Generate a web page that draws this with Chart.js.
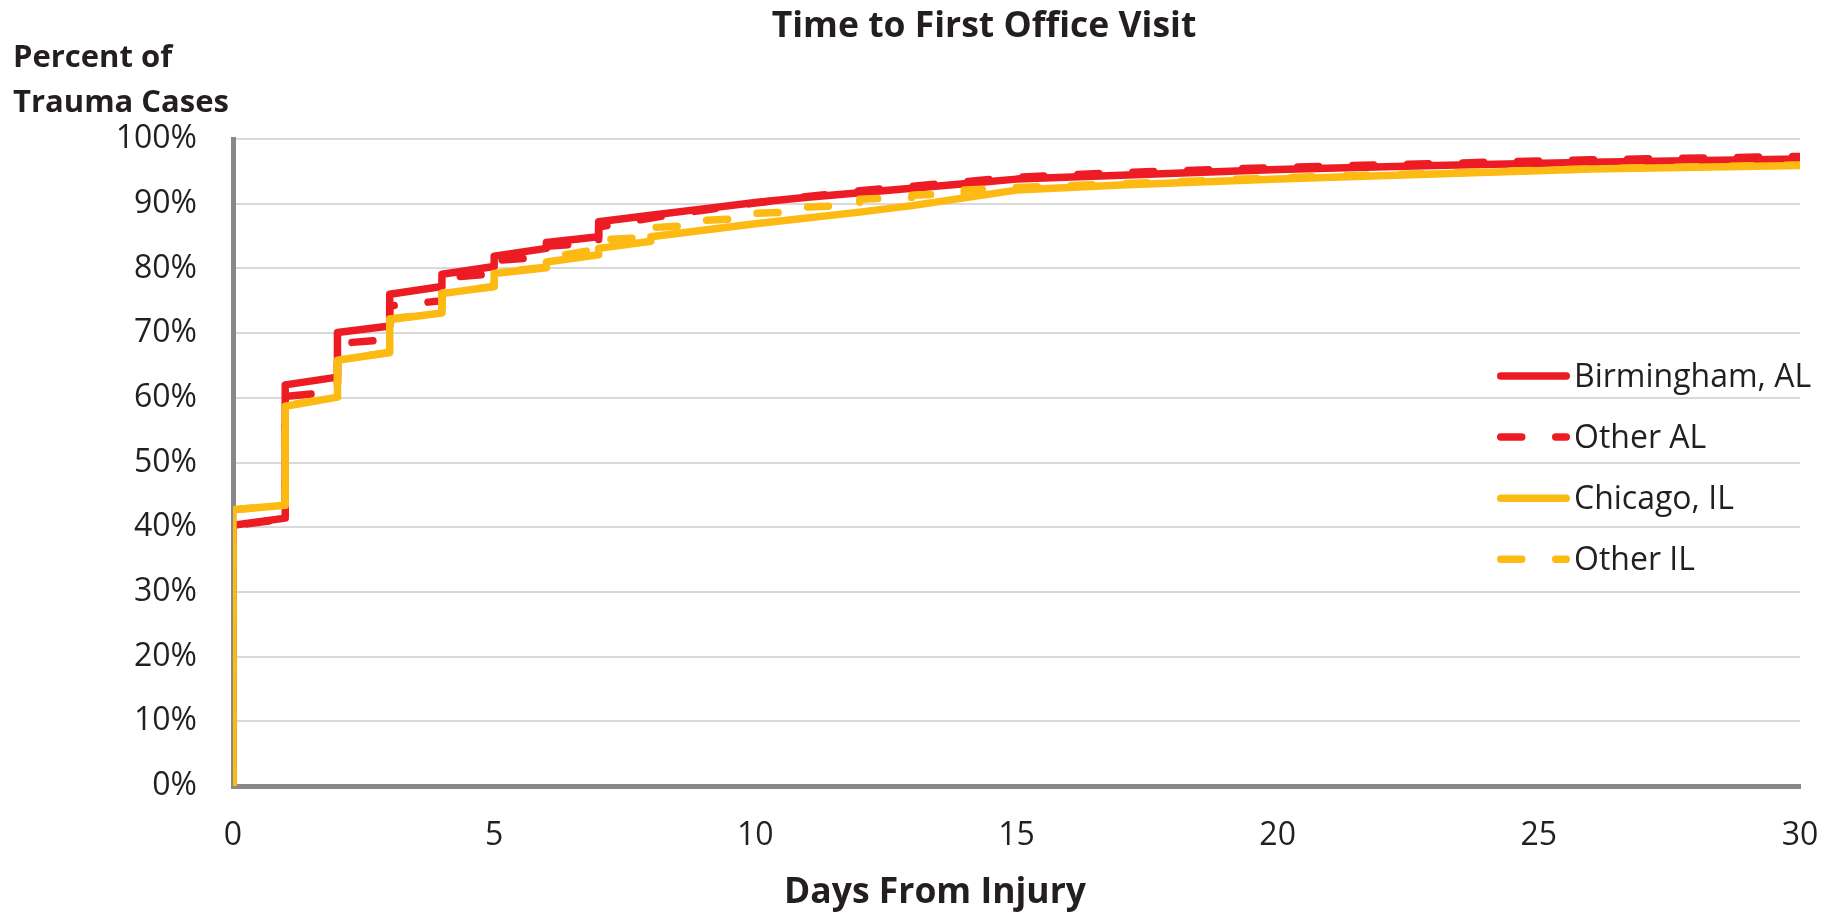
<!DOCTYPE html>
<html>
<head>
<meta charset="utf-8">
<title>Time to First Office Visit</title>
<script src="https://cdn.jsdelivr.net/npm/chart.js@4.4.1/dist/chart.umd.min.js"></script>
<style>
  html, body { margin: 0; padding: 0; background: #ffffff; }
  #wrap { width: 1835px; height: 913px; }
</style>
</head>
<body>
<div id="wrap"><canvas id="chart" width="1835" height="913"></canvas></div>
<script>
// Cumulative share of trauma cases seen in the office, by days from injury.
// Each series is a list of knots (day, percent); a repeated day gives a step.
const chartTitle = 'Time to First Office Visit';
const yTitleLines = ['Percent of', 'Trauma Cases'];
const xTitle = 'Days From Injury';
const seriesNames = ['Birmingham, AL', 'Other AL', 'Chicago, IL', 'Other IL'];

const birminghamDays = [0, 0, 1, 1, 2, 2, 3, 3, 4, 4, 5, 5, 6, 6, 7, 7, 8, 9, 10, 11, 12, 13, 14, 15, 17, 20, 23, 26, 30];
const birminghamPct  = [0, 40.3, 41.4, 62.0, 63.2, 70.1, 71.1, 76.0, 77.2, 79.1, 80.3, 81.9, 83.1, 84.0, 84.9, 87.2, 88.2, 89.2, 90.2, 91.0, 91.7, 92.4, 93.1, 93.8, 94.4, 95.3, 95.9, 96.4, 96.9];

const otherAlDays = [0, 0, 1, 1, 2, 2, 3, 3, 4, 4, 5, 5, 6, 6, 7, 7, 8, 9, 10, 11, 12, 13, 14, 15, 17, 20, 23, 26, 30];
const otherAlPct  = [0, 40.2, 41.3, 60.2, 61.0, 68.4, 69.0, 74.2, 75.0, 78.5, 79.2, 81.2, 81.8, 83.4, 84.0, 86.4, 87.8, 89.0, 90.1, 91.1, 92.0, 92.7, 93.4, 94.1, 94.8, 95.6, 96.2, 96.8, 97.3];

const chicagoDays = [0, 0, 1, 1, 2, 2, 3, 3, 4, 4, 5, 5, 6, 6, 7, 7, 8, 8, 10, 12, 13, 14, 15, 17, 20, 23, 26, 30];
const chicagoPct  = [0, 42.7, 43.4, 58.7, 60.1, 65.8, 67.0, 72.1, 73.1, 76.1, 77.2, 79.2, 80.1, 81.0, 82.1, 83.1, 84.2, 84.9, 86.9, 88.7, 89.7, 90.9, 92.1, 92.9, 93.8, 94.6, 95.35, 95.9];

const otherIlDays = [0, 0, 1, 1, 2, 2, 3, 3, 4, 4, 5, 5, 6, 6, 7, 7, 8, 8, 9, 9, 10, 10, 11, 11, 12, 12, 13, 13, 14, 14, 15, 17, 20, 23, 26, 30];
const otherIlPct  = [0, 42.7, 43.4, 58.8, 60.1, 65.9, 67.0, 72.2, 73.1, 76.2, 77.2, 79.3, 80.2, 81.6, 83.0, 84.4, 84.8, 86.3, 86.7, 87.4, 87.8, 88.5, 88.8, 89.5, 89.8, 90.7, 91.0, 91.3, 91.6, 92.1, 92.5, 93.1, 94.0, 94.7, 95.4, 96.0];

const dayMin = 0, dayMax = 30, dayStep = 5;
const pctMin = 0, pctMax = 100, pctStep = 10;

const RED = '#ED1C24';
const GOLD = '#FDBA12';
const TEXT = '#231F20';
const AXIS = '#898989';
const GRID = '#D9D9D9';
const FONT = '"Open Sans", Lato, sans-serif';
const DASH = [21, 34];
const LINE_W = 7.5;

function knots(days, pct) {
  return days.map((d, i) => ({ x: d, y: pct[i] }));
}

function series(label, days, pct, color, dashed, order) {
  return {
    label,
    data: knots(days, pct),
    borderColor: color,
    backgroundColor: color,
    borderWidth: LINE_W,
    borderDash: dashed ? DASH : [],
    borderCapStyle: 'round',
    borderJoinStyle: 'round',
    pointRadius: 0,
    pointHoverRadius: 0,
    tension: 0,
    fill: false,
    order
  };
}

// Titles and the right-hand key, painted on top of the plot.
const annotations = {
  id: 'annotations',
  afterDraw(chart, args, opts) {
    const ctx = chart.ctx;
    ctx.save();
    ctx.fillStyle = TEXT;
    ctx.textBaseline = 'alphabetic';

    ctx.font = 'bold ' + opts.titleSize + 'px ' + FONT;
    ctx.textAlign = 'center';
    ctx.fillText(chartTitle, opts.titleX, opts.titleBaseline);
    ctx.fillText(xTitle, opts.xTitleX, opts.xTitleBaseline);

    ctx.font = 'bold ' + opts.yTitleSize + 'px ' + FONT;
    ctx.textAlign = 'left';
    yTitleLines.forEach((t, i) => ctx.fillText(t, opts.yTitleX, opts.yTitleBaseline + i * opts.yTitleLineGap));

    // key: sample line followed by the series name
    ctx.font = opts.keySize + 'px ' + FONT;
    chart.data.datasets.forEach((ds) => {
      const idx = seriesNames.indexOf(ds.label);
      const y = opts.keyY + idx * opts.keyGap;
      ctx.save();
      ctx.strokeStyle = ds.borderColor;
      ctx.lineWidth = ds.borderWidth;
      ctx.lineCap = 'round';
      ctx.setLineDash(ds.borderDash);
      ctx.beginPath();
      ctx.moveTo(opts.keyX, y);
      ctx.lineTo(opts.keyX + opts.keyLen, y);
      ctx.stroke();
      ctx.restore();
      ctx.fillStyle = TEXT;
      ctx.fillText(ds.label, opts.keyTextX, y + opts.keyBaselineShift);
    });
    ctx.restore();
  }
};

new Chart(document.getElementById('chart'), {
  type: 'line',
  data: {
    datasets: [
      series(seriesNames[0], birminghamDays, birminghamPct, RED, false, 4),
      series(seriesNames[1], otherAlDays, otherAlPct, RED, true, 3),
      series(seriesNames[2], chicagoDays, chicagoPct, GOLD, false, 2),
      series(seriesNames[3], otherIlDays, otherIlPct, GOLD, true, 1)
    ]
  },
  options: {
    responsive: false,
    animation: false,
    events: [],
    layout: { padding: { top: 139, right: 35, left: 0, bottom: 0 } },
    scales: {
      x: {
        type: 'linear',
        min: dayMin,
        max: dayMax,
        ticks: {
          stepSize: dayStep,
          padding: 31,
          color: TEXT,
          font: { family: FONT, size: 32 },
          maxRotation: 0
        },
        grid: { drawOnChartArea: false, drawTicks: false },
        border: { display: true, color: AXIS, width: 5 },
        afterFit(scale) {
          scale.height = 127;
          scale.paddingLeft = 0;
          scale.paddingRight = 0;
        }
      },
      y: {
        type: 'linear',
        min: pctMin,
        max: pctMax,
        ticks: {
          stepSize: pctStep,
          padding: 36,
          color: TEXT,
          font: { family: FONT, size: 32 },
          callback: (v) => v + '%'
        },
        grid: { color: GRID, lineWidth: 2, drawTicks: false },
        border: { display: true, color: AXIS, width: 5 },
        afterFit(scale) { scale.width = 233; }
      }
    },
    plugins: {
      legend: { display: false },
      tooltip: { enabled: false },
      title: { display: false },
      annotations: {
        titleSize: 35.5,
        titleX: 984, titleBaseline: 37,
        xTitleX: 935, xTitleBaseline: 903,
        yTitleSize: 31,
        yTitleX: 13, yTitleBaseline: 67, yTitleLineGap: 45,
        keySize: 32,
        keyX: 1500.75, keyLen: 65.5, keyTextX: 1574,
        keyY: 376, keyGap: 61.1, keyBaselineShift: 11
      }
    }
  },
  plugins: [annotations]
});
</script>
</body>
</html>
